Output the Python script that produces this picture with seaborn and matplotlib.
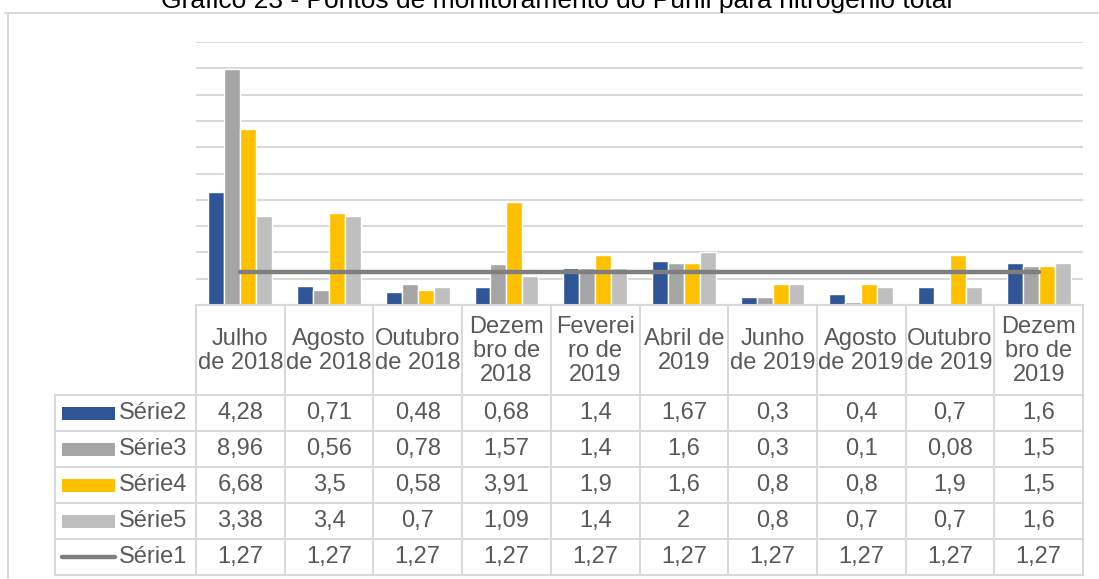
import numpy as np
import pandas as pd
import matplotlib
matplotlib.use("Agg")
import matplotlib.pyplot as plt
import seaborn as sns

sns.set_style("white")
plt.rcParams['font.family'] = ['Liberation Sans', 'DejaVu Sans']

titulo = "Gráfico 23 - Pontos de monitoramento do Punil para nitrogênio total"
meses = ["Julho\nde 2018", "Agosto\nde 2018", "Outubro\nde 2018", "Dezem\nbro de\n2018",
         "Feverei\nro de\n2019", "Abril de\n2019", "Junho\nde 2019", "Agosto\nde 2019",
         "Outubro\nde 2019", "Dezem\nbro de\n2019"]
serie2 = [4.28, 0.71, 0.48, 0.68, 1.4, 1.67, 0.3, 0.4, 0.7, 1.6]
serie3 = [8.96, 0.56, 0.78, 1.57, 1.4, 1.6, 0.3, 0.1, 0.08, 1.5]
serie4 = [6.68, 3.5, 0.58, 3.91, 1.9, 1.6, 0.8, 0.8, 1.9, 1.5]
serie5 = [3.38, 3.4, 0.7, 1.09, 1.4, 2, 0.8, 0.7, 0.7, 1.6]
serie1 = [1.27, 1.27, 1.27, 1.27, 1.27, 1.27, 1.27, 1.27, 1.27, 1.27]

nomes_barras = ["Série2", "Série3", "Série4", "Série5"]
cores = ["#2F5597", "#A5A5A5", "#FFC000", "#BFBFBF"]
cor_linha = "#7F7F7F"
cor_grade = "#D9D9D9"
cor_texto = "#595959"

df = pd.DataFrame({"mes": meses, "Série2": serie2, "Série3": serie3,
                   "Série4": serie4, "Série5": serie5})
df = df.melt(id_vars="mes", var_name="serie", value_name="valor")

W, H = 1099, 579
fig = plt.figure(figsize=(W / 100, H / 100), dpi=100)

# area do grafico (pixels medidos na imagem)
x0, x1, ytop, ybase, ybot = 196, 1083, 42, 305, 575
ax = fig.add_axes([x0 / W, (H - ybase) / H, (x1 - x0) / W, (ybase - ytop) / H])
sns.barplot(data=df, x="mes", y="valor", hue="serie", order=meses, hue_order=nomes_barras,
            palette=cores, width=0.72, gap=0, saturation=1, errorbar=None,
            legend=False, ax=ax)
sns.lineplot(x=np.arange(len(meses)), y=serie1, color=cor_linha, lw=3.2, ax=ax)
ax.set_xlim(-0.5, len(meses) - 0.5)
ax.set_ylim(0, 10)
ax.set_yticks(range(11))
ax.grid(axis="y", color=cor_grade, lw=1.5)
ax.set_axisbelow(True)
ax.tick_params(left=False, bottom=False, labelleft=False, labelbottom=False)
ax.set_xlabel("")
ax.set_ylabel("")
for s in ["left", "right", "top"]:
    ax.spines[s].set_visible(False)
ax.spines["bottom"].set_color(cor_grade)
ax.spines["bottom"].set_linewidth(1.5)

# tabela de dados
larg_cat = (x1 - x0) / len(meses)
xl = -0.5 - (x0 - 55) / larg_cat
tab = fig.add_axes([55 / W, (H - ybot) / H, (x1 - 55) / W, (ybot - ybase) / H])
tab.set_xlim(xl, len(meses) - 0.5)
tab.set_ylim(ybot - ybase, 0)
tab.axis("off")

h_cab = 90
h_lin = 36
lw_t = 1.5
for i in range(len(meses) + 1):
    tab.plot([i - 0.5, i - 0.5], [0, ybot - ybase], color=cor_grade, lw=lw_t, clip_on=False)
tab.plot([xl, xl], [h_cab, ybot - ybase], color=cor_grade, lw=lw_t, clip_on=False)
for k in range(6):
    y = h_cab + k * h_lin
    tab.plot([xl, len(meses) - 0.5], [y, y], color=cor_grade, lw=lw_t, clip_on=False)

fs = 17
for i, m in enumerate(meses):
    tab.text(i, h_cab / 2 + 1, m, ha="center", va="center", fontsize=fs,
             color=cor_texto, linespacing=1.1)

linhas = [("Série2", serie2, cores[0]), ("Série3", serie3, cores[1]),
          ("Série4", serie4, cores[2]), ("Série5", serie5, cores[3]),
          ("Série1", serie1, cor_linha)]
sw0 = (62 - x0) / larg_cat - 0.5
sw1 = (115 - x0) / larg_cat - 0.5
tx = (119 - x0) / larg_cat - 0.5
for k, (nome, vals, cor) in enumerate(linhas):
    yc = h_cab + k * h_lin + h_lin / 2
    if nome == "Série1":
        tab.plot([sw0, sw1], [yc, yc], color=cor, lw=3.2)
    else:
        tab.add_patch(plt.Rectangle((sw0, yc - 6.5), sw1 - sw0, 13, color=cor, lw=0))
    tab.text(tx, yc, nome, ha="left", va="center", fontsize=fs, color=cor_texto)
    for i, v in enumerate(vals):
        tab.text(i, yc, f"{v:g}".replace(".", ","), ha="center", va="center",
                 fontsize=fs, color=cor_texto)

# borda da area do grafico
fig.add_artist(plt.Line2D([5 / W, 1], [1 - 13 / H, 1 - 13 / H], color=cor_grade, lw=1.5))
fig.add_artist(plt.Line2D([8 / W, 8 / W], [0, 1 - 13 / H], color=cor_grade, lw=1.5))

# titulo cortado no topo, como na imagem original
fig.text(557 / W, 1 - 8 / H, titulo, ha="center", va="baseline", fontsize=19, color="black")

fig.savefig("out.png", dpi=100)
